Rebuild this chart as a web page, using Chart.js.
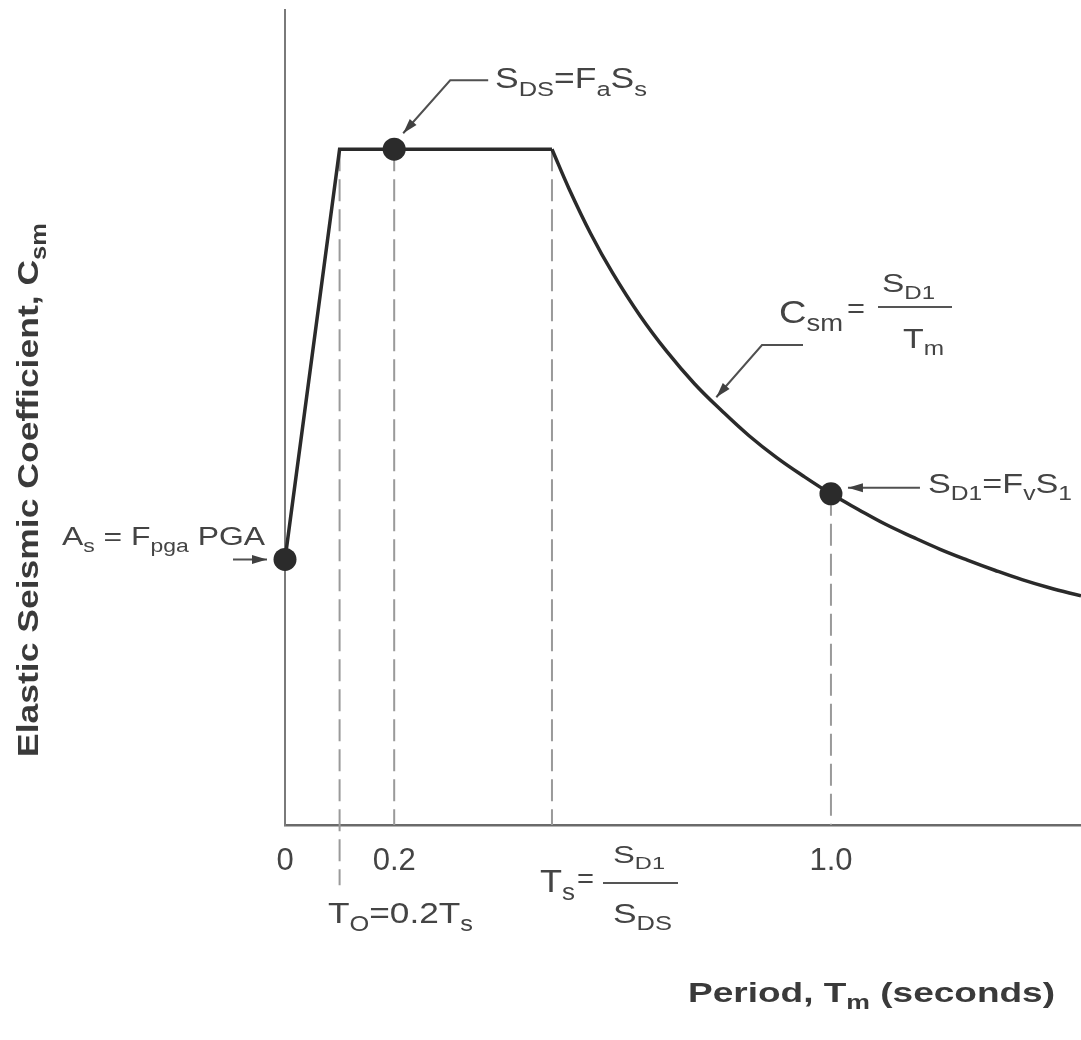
<!DOCTYPE html>
<html>
<head>
<meta charset="utf-8">
<title>Elastic seismic response spectrum</title>
<script src="https://cdn.jsdelivr.net/npm/chart.js@4.4.1/dist/chart.umd.min.js"></script>
<style>
    html, body { margin: 0; padding: 0; background: #fff; overflow: hidden; }
    #wrap { width: 1081px; height: 1040px; position: relative; }
</style>
</head>
<body>
<div id="wrap"><canvas id="spectrumChart"></canvas></div>
<script>
// values (SDS taken as 1.0)
const plateauT = [0, 0.1, 0.2, 0.489];
const plateauC = [0.393, 1.0, 1.0, 1.0];

const decayT = [0.489, 0.52, 0.56, 0.6, 0.65, 0.7, 0.75, 0.8, 0.85, 0.9, 0.95, 1.0, 1.05, 1.1, 1.15, 1.2, 1.25, 1.3, 1.35, 1.4, 1.458];
const decayC = [1.0, 0.942, 0.875, 0.817, 0.754, 0.70, 0.653, 0.613, 0.576, 0.544, 0.516, 0.49, 0.467, 0.445, 0.426, 0.408, 0.392, 0.377, 0.363, 0.351, 0.339];

const markerT = [0, 0.2, 1.0];
const markerC = [0.393, 1.0, 0.49];

const guideT = [0.1, 0.2, 0.489, 1.0];
const guideTop = [1.0, 1.0, 1.0, 0.49];
const guideBottom = [-0.089, 0, 0, 0];

const tickValues = [0, 0.2, 1.0];
const tickLabels = ["0", "0.2", "1.0"];

const FONT = "'Liberation Sans', Arial, Helvetica, sans-serif";
const INK = "#444";
const LINE = "#2a2a2a";

function toPoints(xs, ys) {
    return xs.map((x, i) => ({ x: x, y: ys[i] }));
}

// draw text made of normal and subscript parts, squeezed/stretched to a width
function drawRich(ctx, parts, x, y, opt) {
    const size = opt.size;
    const subSize = size * (opt.subScale || 0.72);
    const weight = opt.bold ? "bold " : "";
    let natural = 0;
    parts.forEach(p => {
        ctx.font = weight + (p.sub ? subSize : size) + "px " + FONT;
        natural += ctx.measureText(p.t).width;
    });
    const sx = opt.width ? opt.width / natural : 1;
    ctx.save();
    ctx.translate(x, y);
    if (opt.rotate) ctx.rotate(opt.rotate);
    ctx.scale(sx, 1);
    let cx = opt.align === "center" ? -natural / 2 : 0;
    ctx.fillStyle = opt.color || INK;
    ctx.textBaseline = "alphabetic";
    ctx.textAlign = "left";
    parts.forEach(p => {
        ctx.font = weight + (p.sub ? subSize : size) + "px " + FONT;
        ctx.fillText(p.t, cx, p.sub ? size * 0.26 : 0);
        cx += ctx.measureText(p.t).width;
    });
    ctx.restore();
}

function drawArrow(ctx, pts) {
    ctx.save();
    ctx.strokeStyle = "#505050";
    ctx.fillStyle = "#404040";
    ctx.lineWidth = 2;
    ctx.beginPath();
    ctx.moveTo(pts[0][0], pts[0][1]);
    for (let i = 1; i < pts.length; i++) ctx.lineTo(pts[i][0], pts[i][1]);
    ctx.stroke();
    const a = pts[pts.length - 2], b = pts[pts.length - 1];
    const ang = Math.atan2(b[1] - a[1], b[0] - a[0]);
    ctx.translate(b[0], b[1]);
    ctx.rotate(ang);
    ctx.beginPath();
    ctx.moveTo(0, 0);
    ctx.lineTo(-15, -4.5);
    ctx.lineTo(-15, 4.5);
    ctx.closePath();
    ctx.fill();
    ctx.restore();
}

function fracBar(ctx, x1, x2, y) {
    ctx.save();
    ctx.strokeStyle = "#555";
    ctx.lineWidth = 2;
    ctx.beginPath();
    ctx.moveTo(x1, y);
    ctx.lineTo(x2, y);
    ctx.stroke();
    ctx.restore();
}

const annotations = {
    id: "annotations",
    afterDraw(chart) {
        const ctx = chart.ctx;
        const xs = chart.scales.x, ys = chart.scales.y;
        const px = v => xs.getPixelForValue(v);
        const py = v => ys.getPixelForValue(v);

        // axis titles
        drawRich(ctx, [{ t: "Elastic Seismic Coefficient, C" }, { t: "sm", sub: true }],
            38, 490, { size: 30, bold: true, width: 534, align: "center", rotate: -Math.PI / 2, color: "#3a3a3a" });
        drawRich(ctx, [{ t: "Period, T" }, { t: "m", sub: true }, { t: " (seconds)" }],
            688, 1002, { size: 28, bold: true, width: 367, color: "#3a3a3a" });

        // S_DS = Fa Ss
        const p1 = [px(0.2), py(1.0)];
        drawArrow(ctx, [[p1[0] + 94, p1[1] - 69], [p1[0] + 56, p1[1] - 69], [p1[0] + 9, p1[1] - 16]]);
        drawRich(ctx, [{ t: "S" }, { t: "DS", sub: true }, { t: "=F" }, { t: "a", sub: true }, { t: "S" }, { t: "s", sub: true }],
            495, 88, { size: 29, width: 152 });

        // Csm = SD1 / Tm
        drawArrow(ctx, [[803, 345], [762, 345], [px(0.79), py(0.633)]]);
        drawRich(ctx, [{ t: "C" }, { t: "sm", sub: true }], 779, 323, { size: 32, width: 64 });
        drawRich(ctx, [{ t: "=" }], 847, 318, { size: 28, width: 18 });
        fracBar(ctx, 878, 952, 307);
        drawRich(ctx, [{ t: "S" }, { t: "D1", sub: true }], 882, 292, { size: 25, width: 53 });
        drawRich(ctx, [{ t: "T" }, { t: "m", sub: true }], 903, 348, { size: 28, width: 41 });

        // SD1 = Fv S1
        const p2 = [px(1.0), py(0.49)];
        drawArrow(ctx, [[p2[0] + 89, p2[1] - 6], [p2[0] + 17, p2[1] - 6]]);
        drawRich(ctx, [{ t: "S" }, { t: "D1", sub: true }, { t: "=F" }, { t: "v", sub: true }, { t: "S" }, { t: "1", sub: true }],
            928, 493, { size: 28, width: 144 });

        // As = Fpga PGA
        const p0 = [px(0), py(0.393)];
        drawArrow(ctx, [[p0[0] - 52, p0[1]], [p0[0] - 18, p0[1]]]);
        drawRich(ctx, [{ t: "A" }, { t: "s", sub: true }, { t: " = F" }, { t: "pga", sub: true }, { t: " PGA" }],
            62, 545, { size: 25, width: 203 });

        // To = 0.2 Ts
        drawRich(ctx, [{ t: "T" }, { t: "O", sub: true }, { t: "=0.2T" }, { t: "s", sub: true }],
            328, 923, { size: 30, width: 145 });

        // Ts = SD1 / SDS
        drawRich(ctx, [{ t: "T" }, { t: "s", sub: true }], 540, 892, { size: 32, width: 35 });
        drawRich(ctx, [{ t: "=" }], 577, 888, { size: 28, width: 17 });
        fracBar(ctx, 603, 678, 883);
        drawRich(ctx, [{ t: "S" }, { t: "D1", sub: true }], 613, 863, { size: 24, width: 52 });
        drawRich(ctx, [{ t: "S" }, { t: "DS", sub: true }], 613, 923, { size: 27, width: 59 });
    }
};

const guideSets = guideT.map((t, i) => ({
    data: toPoints([t, t], [guideTop[i], guideBottom[i]]),
    showLine: true,
    borderColor: "#9a9a9a",
    borderWidth: 2,
    borderDash: [22, 8],
    pointRadius: 0,
    clip: false
}));

const ctx = document.getElementById("spectrumChart").getContext("2d");
const spectrumChart = new Chart(ctx, {
    type: "scatter",
    data: {
        datasets: [
            {
                data: toPoints(markerT, markerC),
                showLine: false,
                pointRadius: 11.5,
                pointBackgroundColor: "#2b2b2b",
                pointBorderColor: "#2b2b2b",
                pointBorderWidth: 0,
                clip: false
            },
            {
                data: toPoints(plateauT, plateauC),
                showLine: true,
                borderColor: LINE,
                borderWidth: 3.5,
                tension: 0,
                pointRadius: 0,
                borderJoinStyle: "miter",
                clip: false
            },
            {
                data: toPoints(decayT, decayC),
                showLine: true,
                borderColor: LINE,
                borderWidth: 3.5,
                tension: 0.4,
                pointRadius: 0,
                clip: false
            },
            ...guideSets
        ]
    },
    options: {
        responsive: true,
        maintainAspectRatio: false,
        animation: false,
        layout: { autoPadding: false, padding: { top: 10, right: 0, bottom: 0, left: 0 } },
        plugins: {
            legend: { display: false },
            tooltip: { enabled: false }
        },
        scales: {
            x: {
                type: "linear",
                min: 0,
                max: 1.458,
                grid: { display: false, drawTicks: false },
                border: { display: true, color: "#6a6a6a", width: 2.5 },
                afterBuildTicks: scale => { scale.ticks = tickValues.map(v => ({ value: v })); },
                afterFit: scale => { scale.height = 215; },
                ticks: {
                    padding: 18,
                    color: INK,
                    font: { family: FONT, size: 31 },
                    callback: (value) => tickLabels[tickValues.indexOf(value)]
                }
            },
            y: {
                type: "linear",
                min: 0,
                max: 1.206,
                grid: { display: false, drawTicks: false },
                border: { display: true, color: "#7a7a7a", width: 2 },
                afterFit: scale => { scale.width = 285; },
                ticks: { display: false }
            }
        }
    },
    plugins: [annotations]
});
</script>
</body>
</html>
